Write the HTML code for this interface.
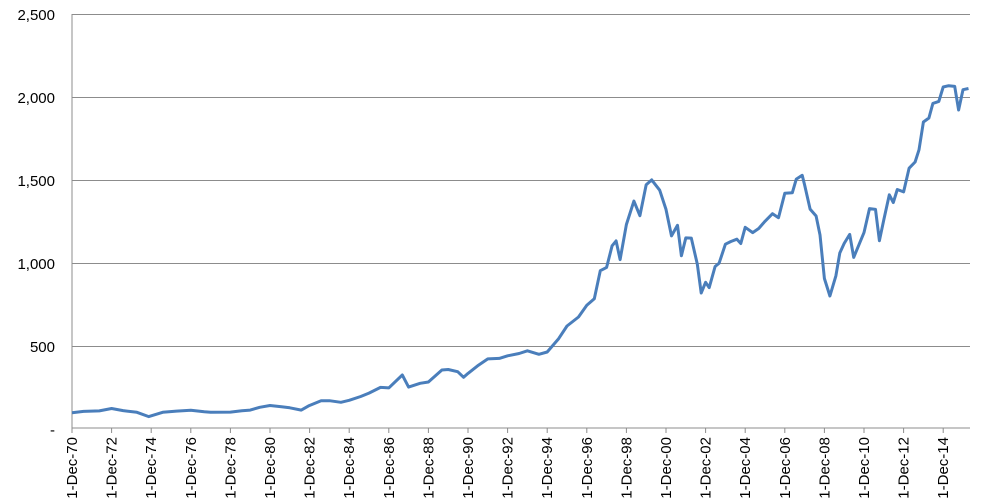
<!DOCTYPE html>
<html><head><meta charset="utf-8"><style>
html,body{margin:0;padding:0;background:#fff;width:1000px;height:501px;overflow:hidden}
text{font-family:"Liberation Sans",sans-serif;font-size:15px;fill:#000}
</style></head><body>
<svg id="s" width="1000" height="501" xmlns="http://www.w3.org/2000/svg">
<g stroke="#8c8c8c" stroke-width="1">
<line x1="72" y1="14.5" x2="970" y2="14.5"/>
<line x1="72" y1="97.5" x2="970" y2="97.5"/>
<line x1="72" y1="180.5" x2="970" y2="180.5"/>
<line x1="72" y1="263.5" x2="970" y2="263.5"/>
<line x1="72" y1="346.5" x2="970" y2="346.5"/>
<line x1="72" y1="428" x2="970" y2="428"/>
<line x1="72" y1="14" x2="72" y2="428"/>
</g>
<g text-anchor="end">
<text x="55" y="20">2,500</text>
<text x="55" y="103">2,000</text>
<text x="55" y="186">1,500</text>
<text x="55" y="269">1,000</text>
<text x="55" y="352">500</text>
<text x="55" y="435">-</text>
</g>
<g id="xt"></g>
<polyline id="ln" fill="none" stroke="#4a7ebb" stroke-width="3" stroke-linejoin="round"/>
</svg>
<script>
var d=[[1970.92,92],[1971.5,100],[1972.3,103],[1972.92,118],[1973.5,105],[1974.2,95],[1974.8,69],[1975.5,95],[1976.2,102],[1976.92,107],[1977.6,98],[1977.92,95],[1978.92,96],[1979.5,104],[1979.92,108],[1980.4,125],[1980.92,136],[1981.5,128],[1981.92,122],[1982.5,108],[1982.9,135],[1983.5,165],[1983.92,165],[1984.5,155],[1984.92,167],[1985.5,190],[1985.92,211],[1986.5,245],[1986.92,242],[1987.6,320],[1987.92,247],[1988.5,270],[1988.92,278],[1989.6,350],[1989.92,353],[1990.4,340],[1990.7,306],[1990.92,330],[1991.4,375],[1991.92,417],[1992.5,420],[1992.92,436],[1993.5,450],[1993.92,466],[1994.5,445],[1994.92,459],[1995.5,540],[1995.92,616],[1996.5,670],[1996.92,741],[1997.3,780],[1997.6,950],[1997.92,970],[1998.2,1100],[1998.4,1130],[1998.6,1017],[1998.92,1229],[1999.3,1370],[1999.6,1282],[1999.92,1469],[2000.2,1498],[2000.6,1436],[2000.92,1320],[2001.2,1160],[2001.5,1224],[2001.7,1040],[2001.92,1148],[2002.2,1147],[2002.5,990],[2002.7,815],[2002.92,880],[2003.1,848],[2003.4,975],[2003.6,995],[2003.92,1110],[2004.2,1126],[2004.5,1140],[2004.7,1114],[2004.92,1212],[2005.3,1180],[2005.6,1205],[2005.92,1248],[2006.3,1294],[2006.6,1270],[2006.92,1418],[2007.3,1420],[2007.5,1503],[2007.8,1526],[2007.92,1468],[2008.2,1322],[2008.5,1280],[2008.7,1166],[2008.92,903],[2009.2,797],[2009.5,919],[2009.7,1057],[2009.92,1115],[2010.2,1169],[2010.4,1030],[2010.92,1180],[2011.2,1325],[2011.5,1320],[2011.7,1131],[2011.92,1257],[2012.2,1408],[2012.4,1362],[2012.6,1440],[2012.92,1426],[2013.2,1569],[2013.5,1606],[2013.7,1680],[2013.92,1848],[2014.2,1872],[2014.4,1960],[2014.7,1972],[2014.92,2059],[2015.2,2067],[2015.5,2063],[2015.7,1920],[2015.92,2043],[2016.2,2050]];
var p=d.map(function(a){return (72+(a[0]-1970.92)*19.8).toFixed(1)+','+(428-a[1]*0.1656).toFixed(1)}).join(' ');
document.getElementById('ln').setAttribute('points',p);
var g=document.getElementById('xt'),h='';
for(var i=0;i<=22;i++){var x=72+i*39.6,yr=(70+2*i)%100;yr=(yr<10?'0':'')+yr;
h+='<line x1="'+x+'" y1="428" x2="'+x+'" y2="433" stroke="#8c8c8c"/>';
h+='<text transform="translate('+(x+5)+',437) rotate(-90)" text-anchor="end">1-Dec-'+yr+'</text>';}
g.innerHTML=h;
</script>
</body></html>
